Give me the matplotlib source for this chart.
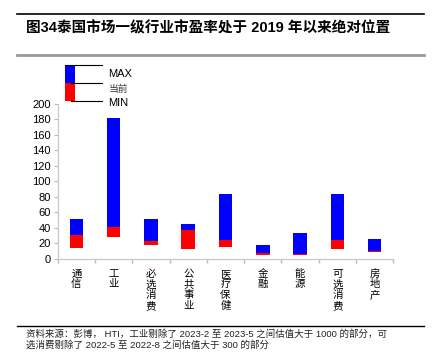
import matplotlib
matplotlib.use("Agg")
import matplotlib.pyplot as plt
from matplotlib.patches import Rectangle
from matplotlib.lines import Line2D
import numpy as np

plt.rcParams['font.family'] = ['Liberation Sans', 'Noto Sans CJK SC']

# data
sectors = ['通信', '工业', '必选消费', '公共事业', '医疗保健', '金融', '能源', '可选消费', '房地产']
pe_min = [14.5, 28, 18.5, 12.5, 15, 5.6, 5.6, 13.2, 9.4]
pe_now = [30.8, 40.7, 22.7, 37.3, 24, 7.3, 6.8, 24, 10.7]
pe_max = [51, 181.7, 51, 45, 84, 18.4, 33, 84, 25.3]

W, H = 439, 362
fig = plt.figure(figsize=(W / 100, H / 100), dpi=100)


def fx(px):
    return px / W


def fy(py):
    return 1 - py / H


# header / footer rules
fig.add_artist(Line2D([fx(17), fx(424)], [fy(13.5), fy(13.5)], color='black', lw=1.2))
fig.add_artist(Line2D([fx(17), fx(424)], [fy(54.5), fy(54.5)], color='#999999', lw=2))
fig.text(fx(26), fy(28), '图34泰国市场一级行业市盈率处于 2019 年以来绝对位置',
         fontsize=10.5, fontweight='bold', va='center', ha='left')
fig.add_artist(Line2D([fx(17), fx(424)], [fy(325.5), fy(325.5)], color='black', lw=1))
fig.text(fx(26), fy(334.5), '资料来源：彭博， HTI，工业剔除了 2023-2 至 2023-5 之间估值大于 1000 的部分，可',
         fontsize=6.8, va='center', ha='left', color='#222222')
fig.text(fx(26), fy(345), '选消费剔除了 2022-5 至 2022-8 之间估值大于 300 的部分',
         fontsize=6.8, va='center', ha='left', color='#222222')

# main axes
ax = fig.add_axes([fx(57.7), fy(259), fx(393.3) - fx(57.7), fy(103.5) - fy(259)])
x = np.arange(len(sectors))
lo = np.array(pe_min)
mid = np.array(pe_now)
hi = np.array(pe_max)
ax.bar(x, mid - lo, bottom=lo, width=0.36, color='#FF0000', edgecolor='none')
ax.bar(x, hi - mid, bottom=mid, width=0.36, color='#0000FF', edgecolor='none')

ax.set_xlim(-0.5, len(sectors) - 0.5)
ax.set_ylim(0, 200)
ax.set_yticks(range(0, 201, 20))
ax.tick_params(axis='y', labelsize=8, length=3, color='#BBBBBB', pad=2)
ax.set_xticks(x)
ax.set_xticklabels(['\n'.join(s) for s in sectors], fontsize=7.5, linespacing=1.08, va='top')
ax.set_xticks(np.arange(-0.5, len(sectors), 1), minor=True)
ax.tick_params(axis='x', which='major', length=0, pad=7)
ax.tick_params(axis='x', which='minor', length=3, color='#BBBBBB', width=1)
for s in ['top', 'right']:
    ax.spines[s].set_visible(False)
for s in ['left', 'bottom']:
    ax.spines[s].set_color('#CCCCCC')
    ax.spines[s].set_linewidth(1)

# key in the top-left corner
fig.add_artist(Rectangle((fx(65), fy(82.7)), fx(75) - fx(65), fy(65) - fy(82.7),
                         transform=fig.transFigure, color='#0000FF', lw=0))
fig.add_artist(Rectangle((fx(65), fy(101)), fx(75) - fx(65), fy(82.7) - fy(101),
                         transform=fig.transFigure, color='#FF0000', lw=0))
fig.add_artist(Line2D([fx(65), fx(102.5)], [fy(65.3), fy(65.3)], color='black', lw=0.8))
fig.add_artist(Line2D([fx(71.5), fx(102.5)], [fy(82.7), fy(82.7)], color='black', lw=0.8))
fig.add_artist(Line2D([fx(71.5), fx(102.5)], [fy(100.8), fy(100.8)], color='black', lw=0.8))
fig.text(fx(108), fy(74), 'MAX', fontsize=8, va='center', ha='left')
fig.text(fx(109), fy(89), '当前', fontsize=7, va='center', ha='left', color='#333333')
fig.text(fx(108), fy(102.5), 'MIN', fontsize=8, va='center', ha='left')

fig.savefig('out.png', dpi=100)
